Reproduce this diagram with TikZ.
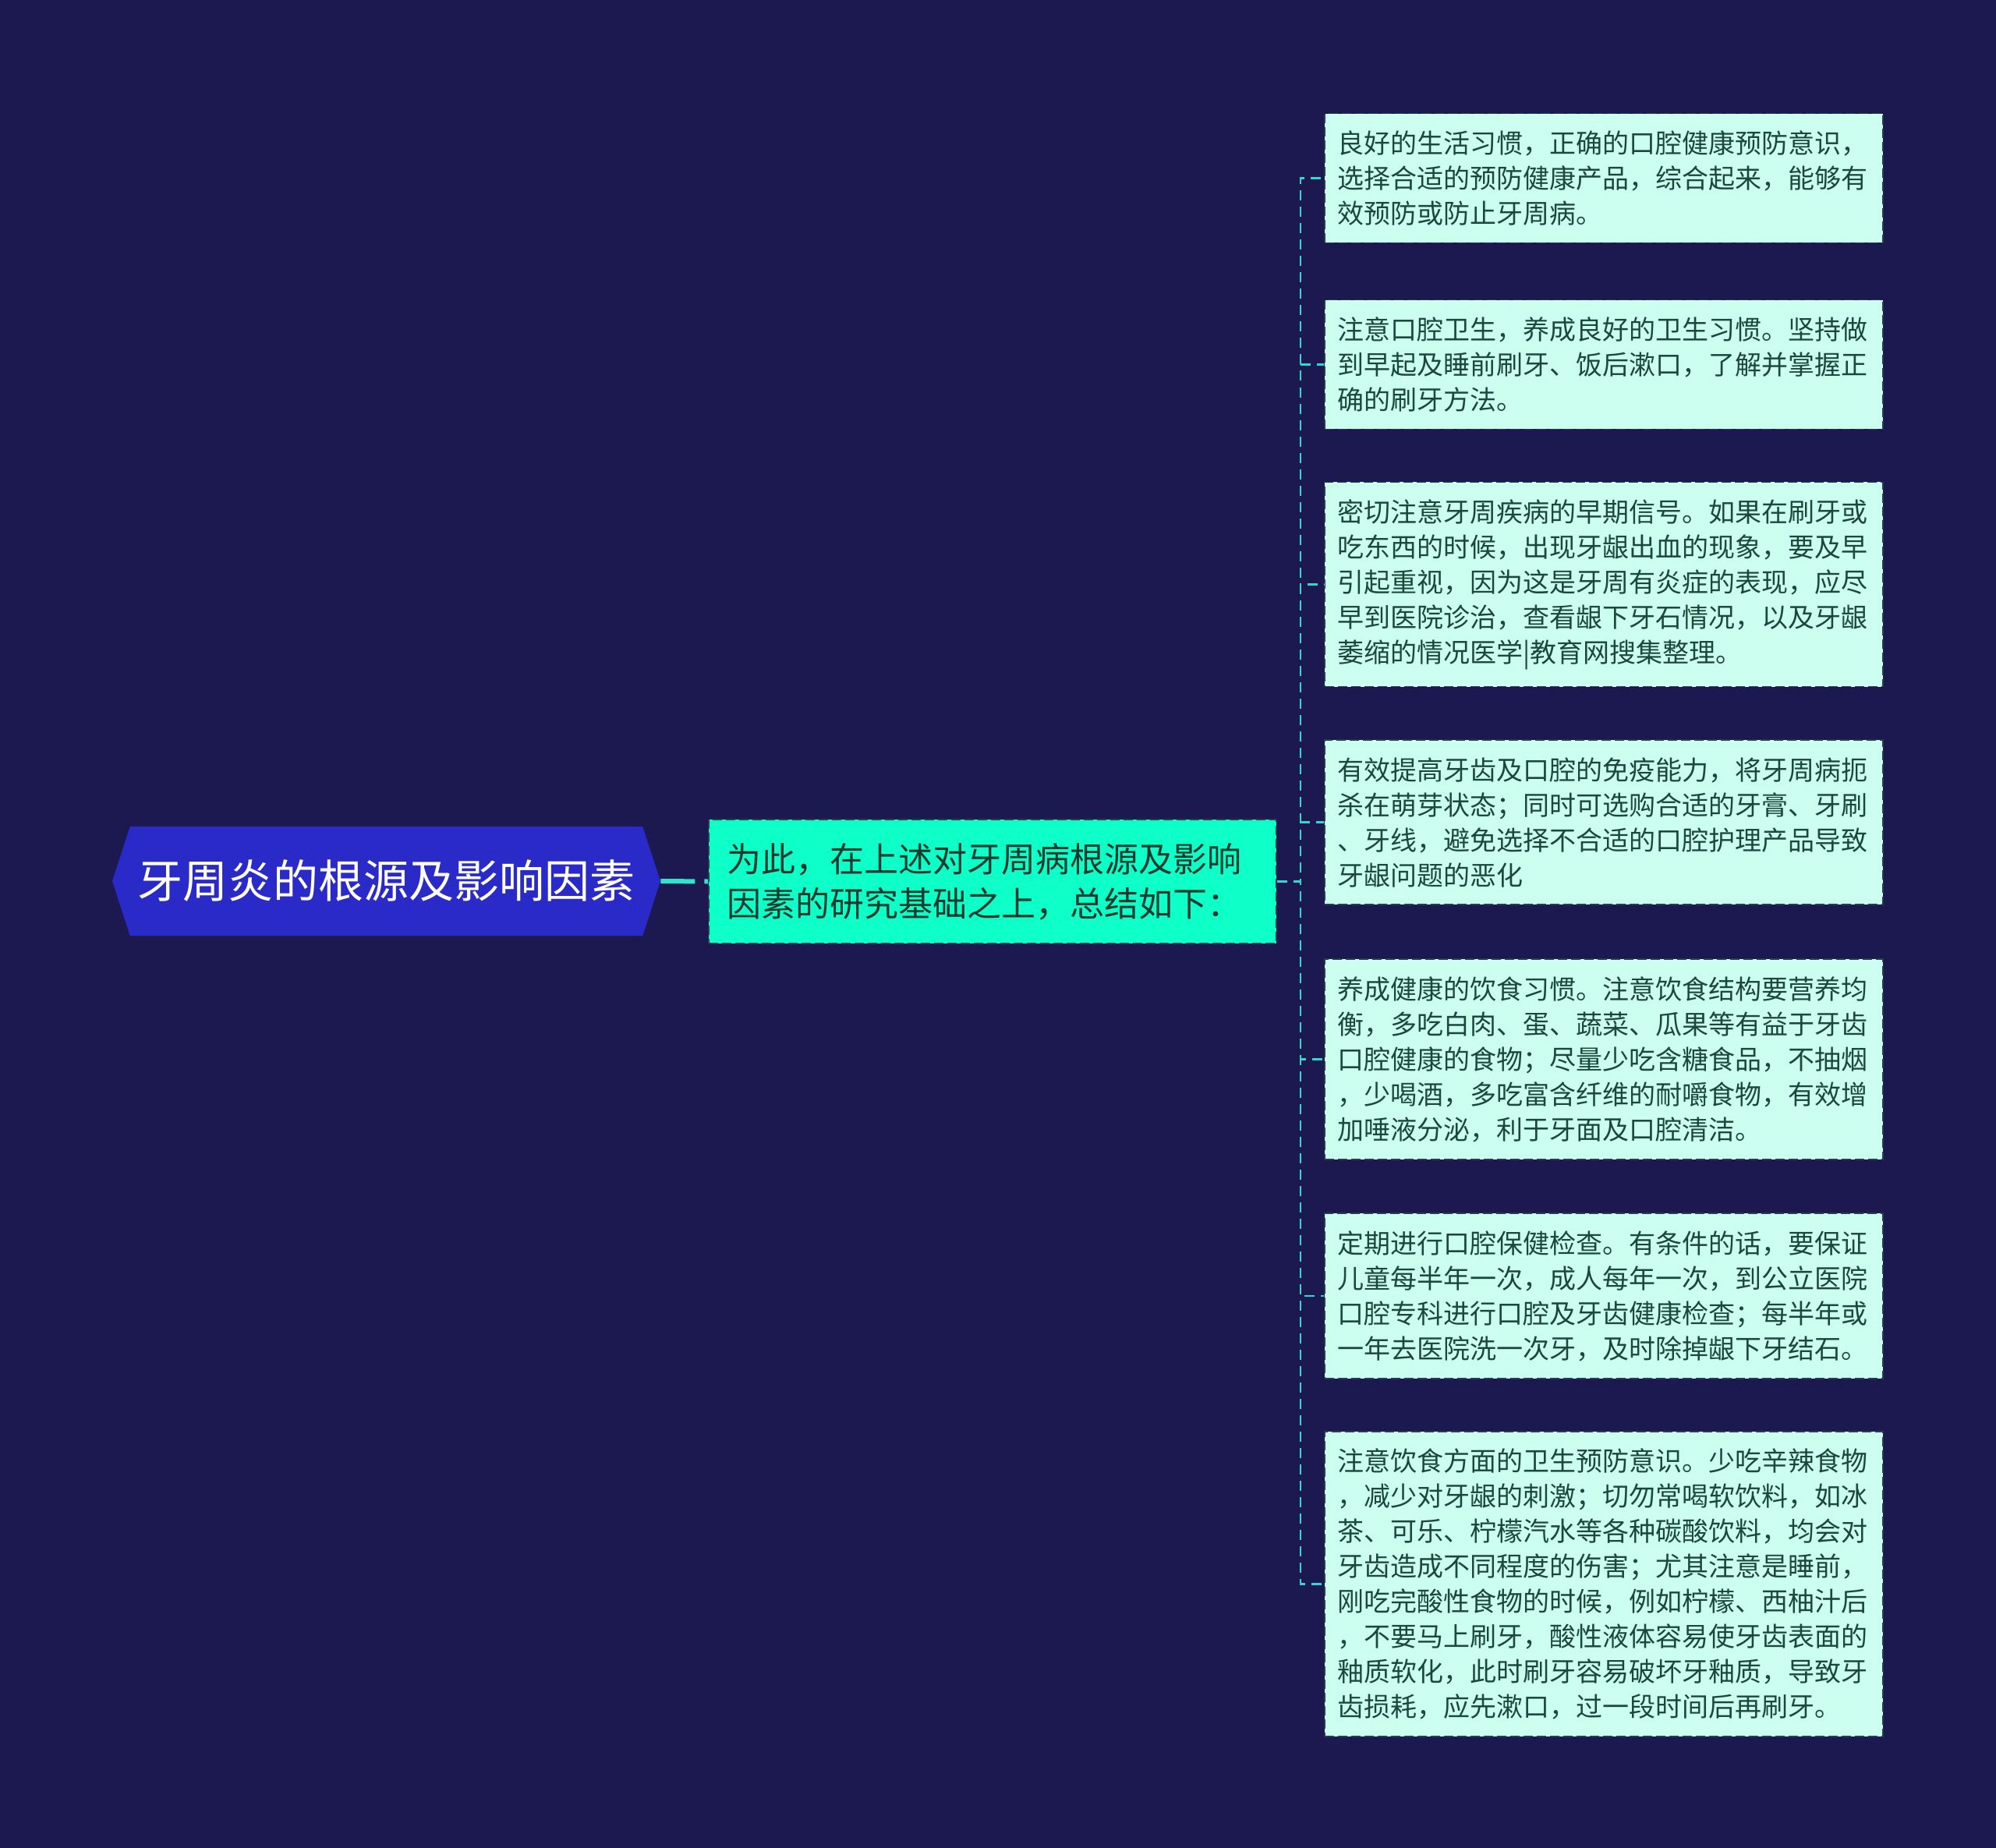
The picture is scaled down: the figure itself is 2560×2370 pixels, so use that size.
\documentclass[tikz,border=0pt]{standalone}
\usepackage{fontspec}
\setmainfont{Noto Sans CJK SC}
\usepackage{tikz}
\usepackage{xcolor}
\usetikzlibrary{shapes.symbols}
\definecolor{bgnavy}{RGB}{27,25,80}
\definecolor{rootblue}{RGB}{42,42,200}
\definecolor{sumgreen}{RGB}{14,255,199}
\definecolor{leafmint}{RGB}{204,255,240}
\definecolor{linkaqua}{RGB}{46,230,204}
\definecolor{linkteal}{RGB}{50,215,208}
\definecolor{edgegray}{RGB}{40,60,76}
\definecolor{inkgreen}{RGB}{28,72,58}

\begin{document}
\begin{tikzpicture}[x=0.5pt,y=-0.5pt,
  rootnode/.style={signal, signal to=west and east, signal pointer angle=144,
    fill=rootblue, text=white, minimum width=351.5pt, minimum height=70pt,
    inner sep=0pt, font=\fontsize{29}{35}\selectfont},
  sumnode/.style={fill=sumgreen, draw=edgegray, dash pattern=on 6pt off 2.5pt, line width=0.8pt,
    text=inkgreen!80!black, align=left, text width=341pt, inner xsep=11.5pt,
    inner ysep=15pt, font=\fontsize{22}{28.5}\selectfont},
  leafnode/.style={anchor=west, fill=leafmint, draw=edgegray, dash pattern=on 6pt off 2.5pt, line width=0.8pt,
    text=inkgreen, align=left, text width=341pt, inner xsep=8.5pt,
    inner ysep=11pt, font=\fontsize{17}{22.5}\selectfont},
  thicklink/.style={draw=linkaqua, line width=3pt, dash pattern=on 22pt off 6pt},
  link/.style={draw=linkteal, line width=1.1pt, dash pattern=on 6.5pt off 4pt}]
\fill[bgnavy] (0,0) rectangle (2560,2370);
\useasboundingbox (0,0) rectangle (2560,2370);
% root and summary
\node[rootnode] (root) at (495.5,1130) {牙周炎的根源及影响因素};
\node[sumnode] (sum) at (1273,1130.5) {为此，在上述对牙周病根源及影响\\因素的研究基础之上，总结如下：};
\draw[thicklink] (root.east) -- (sum.west);
% leaves
\node[leafnode] (habit) at (1698,228.5) {良好的生活习惯，正确的口腔健康预防意识，\\选择合适的预防健康产品，综合起来，能够有\\效预防或防止牙周病。};
\node[leafnode] (hygiene) at (1698,467.5) {注意口腔卫生，养成良好的卫生习惯。坚持做\\到早起及睡前刷牙、饭后漱口，了解并掌握正\\确的刷牙方法。};
\node[leafnode] (warning) at (1698,749.5) {密切注意牙周疾病的早期信号。如果在刷牙或\\吃东西的时候，出现牙龈出血的现象，要及早\\引起重视，因为这是牙周有炎症的表现，应尽\\早到医院诊治，查看龈下牙石情况，以及牙龈\\萎缩的情况医学|教育网搜集整理。};
\node[leafnode] (immune) at (1698,1054.5) {有效提高牙齿及口腔的免疫能力，将牙周病扼\\杀在萌芽状态；同时可选购合适的牙膏、牙刷\\、牙线，避免选择不合适的口腔护理产品导致\\牙龈问题的恶化};
\node[leafnode] (diet) at (1698,1358.5) {养成健康的饮食习惯。注意饮食结构要营养均\\衡，多吃白肉、蛋、蔬菜、瓜果等有益于牙齿\\口腔健康的食物；尽量少吃含糖食品，不抽烟\\，少喝酒，多吃富含纤维的耐嚼食物，有效增\\加唾液分泌，利于牙面及口腔清洁。};
\node[leafnode] (checkup) at (1698,1662) {定期进行口腔保健检查。有条件的话，要保证\\儿童每半年一次，成人每年一次，到公立医院\\口腔专科进行口腔及牙齿健康检查；每半年或\\一年去医院洗一次牙，及时除掉龈下牙结石。};
\node[leafnode] (acid) at (1698,2031.5) {注意饮食方面的卫生预防意识。少吃辛辣食物\\，减少对牙龈的刺激；切勿常喝软饮料，如冰\\茶、可乐、柠檬汽水等各种碳酸饮料，均会对\\牙齿造成不同程度的伤害；尤其注意是睡前，\\刚吃完酸性食物的时候，例如柠檬、西柚汁后\\，不要马上刷牙，酸性液体容易使牙齿表面的\\釉质软化，此时刷牙容易破坏牙釉质，导致牙\\齿损耗，应先漱口，过一段时间后再刷牙。};
% connectors
\foreach \leaf in {habit,hygiene,warning,immune,diet,checkup,acid}
  \draw[link] (sum.east) -- ++(30,0) |- (\leaf.west);
\end{tikzpicture}
\end{document}
